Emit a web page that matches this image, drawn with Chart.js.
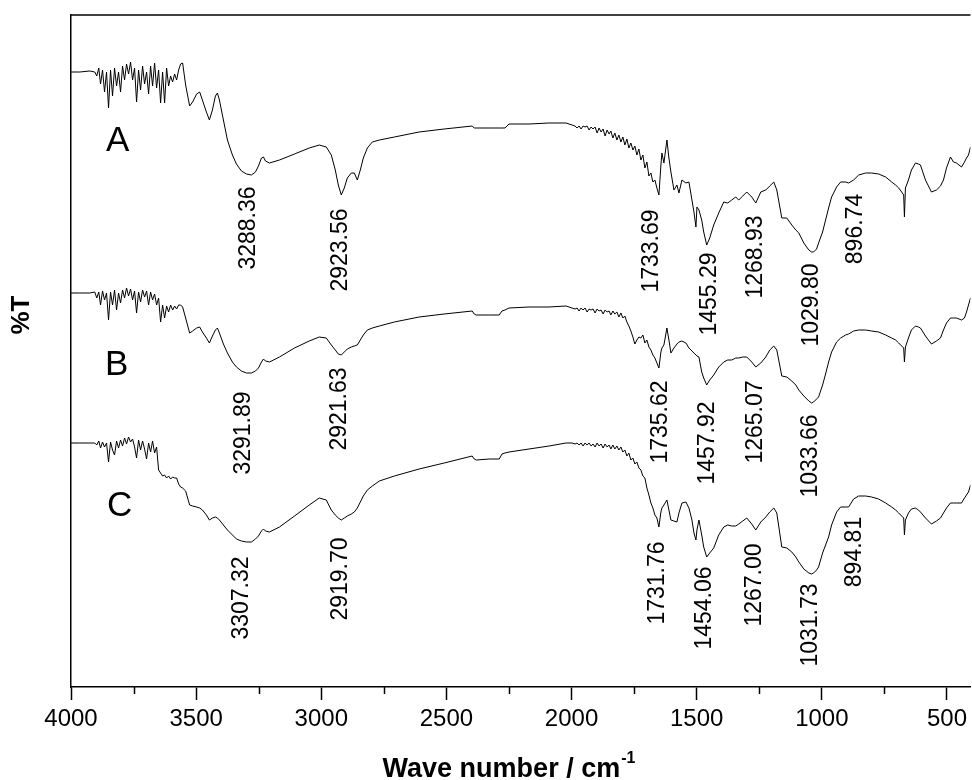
<!DOCTYPE html>
<html>
<head>
<meta charset="utf-8">
<title>FTIR spectra A, B, C</title>
<script src="https://cdn.jsdelivr.net/npm/chart.js@4.4.1/dist/chart.umd.min.js"></script>
<style>
  html, body { margin: 0; padding: 0; background: #fff; }
  canvas { display: block; }
</style>
</head>
<body>
<canvas id="ftirChart" width="972" height="780"></canvas>
<script>
// ---------- data ----------
// wave numbers (cm-1), shared by the three spectra
const waveNumbers = [
  4000, 3965, 3925, 3905,
  3897, 3889, 3882, 3874, 3866, 3858, 3850, 3842, 3834, 3826, 3818, 3810, 3802, 3794, 3786, 3778, 3770, 3762, 3754, 3746,
  3738, 3730, 3722, 3714, 3706, 3698, 3690, 3682, 3674, 3666, 3658, 3650, 3642, 3634, 3626, 3618, 3610, 3602, 3594, 3586,
  3578, 3570, 3562, 3554,
  3542, 3526, 3514, 3498, 3486, 3475, 3459, 3447, 3435, 3423, 3415, 3407, 3391, 3375, 3355, 3339, 3319, 3299, 3279, 3263,
  3251, 3239, 3231, 3223, 3207, 3167, 3107, 3048, 3008, 2980, 2960, 2944, 2932, 2920, 2908, 2896, 2880, 2868, 2856, 2844,
  2832, 2816, 2796, 2768, 2708, 2609, 2509, 2397, 2389, 2381, 2329, 2289, 2278, 2266, 2250, 2170, 2090, 2022, 1998,
  1986, 1978, 1970, 1962, 1954, 1946, 1938, 1930, 1922, 1914, 1906, 1898, 1890, 1882, 1874, 1866, 1858, 1850, 1843, 1835,
  1827, 1819, 1811, 1803, 1795, 1787, 1779, 1771, 1763, 1755, 1747, 1739, 1731, 1723, 1715, 1707, 1699, 1691, 1683, 1675,
  1667, 1659,
  1651, 1643, 1639, 1631, 1619, 1611, 1603, 1591, 1579, 1571, 1559, 1543, 1531, 1519, 1511, 1503, 1499, 1491, 1480, 1472,
  1460, 1448, 1432, 1412, 1392, 1376, 1360, 1344, 1332, 1316, 1300, 1280, 1264, 1244, 1224, 1208, 1192, 1180, 1160, 1140,
  1120, 1104, 1092, 1072, 1052, 1041, 1033, 1021, 1013, 997, 985, 973, 961, 941, 925, 905, 893, 873, 853, 825,
  801, 773, 745, 721, 705, 693, 681, 673, 670, 666, 654, 642, 626, 614, 606, 586, 562, 542, 526, 514,
  502, 486, 474, 462, 442, 430, 422, 414, 406
];

// %T of each spectrum (arbitrary units, the curves are stacked with an offset)
const spectrumA = [
  615, 615, 616, 615,
  611, 619, 603, 617, 595, 615, 579, 617, 591, 619, 601, 615, 595, 621, 607, 623, 613, 625, 607, 619,
  585, 617, 597, 621, 603, 615, 593, 621, 601, 624, 599, 617, 584, 615, 584, 619, 601, 611, 605, 613,
  607, 617, 623, 624,
  602, 581, 585, 593, 595, 587, 575, 567, 577, 591, 594, 587, 567, 547, 532, 523, 516, 513, 512, 515,
  521, 529, 530, 526, 524, 527, 533, 539, 542, 540, 532, 517, 502, 492, 499, 509, 514, 514, 507, 517,
  529, 539, 545, 547, 550, 555, 558, 561, 559, 559, 559, 559, 559, 559, 563, 563, 564, 564, 562,
  561, 559, 561, 558, 561, 560, 561, 557, 560, 558, 560, 554, 559, 555, 558, 551, 557, 553, 556, 549,
  554, 547, 552, 545, 550, 542, 548, 539, 544, 537, 541, 532, 538, 527, 532, 519, 525, 511, 514, 505,
  507, 499,
  492, 522, 534, 524, 547, 529, 515, 497, 502, 494, 507, 504, 505, 487, 475, 460, 480, 477, 467, 455,
  442, 449, 462, 474, 485, 484, 487, 490, 487, 491, 495, 490, 484, 495, 497, 501, 505, 497, 469, 469,
  462, 457, 454, 444, 437, 435, 435, 438, 444, 455, 467, 479, 490, 500, 505, 505, 504, 507, 512, 514,
  514, 513, 510, 505, 502, 499, 495, 492, 470, 499, 507, 517, 524, 523, 522, 507, 495, 497, 501, 507,
  519, 530, 525, 524, 520, 525, 529, 532, 540
];
const spectrumB = [
  394, 394, 394, 395,
  389, 395, 382, 396, 387, 394, 367, 395, 382, 397, 377, 394, 384, 397, 389, 399, 391, 398, 387, 396,
  374, 395, 385, 397, 390, 396, 382, 395, 387, 393, 382, 389, 365, 382, 369, 381, 375, 382, 377, 381,
  378, 382, 382, 380,
  369, 354, 356, 359, 360, 355, 349, 344, 351, 357, 359, 354, 343, 334, 325, 320, 316, 314, 314, 316,
  319, 325, 328, 326, 325, 330, 339, 346, 350, 349, 342, 337, 333, 332, 335, 338, 340, 341, 342, 347,
  352, 357, 359, 361, 365, 370, 373, 376, 373, 372, 372, 372, 376, 377, 379, 380, 380, 381, 379,
  378, 379, 376, 379, 377, 379, 375, 378, 377, 378, 374, 378, 376, 377, 373, 377, 375, 376, 372, 376,
  373, 375, 370, 374, 369, 371, 365, 361, 356, 350, 343, 347, 350, 349, 352, 344, 347, 340, 337, 332,
  329, 324,
  319, 335, 339, 342, 359, 347, 334, 339, 343, 345, 346, 344, 339, 336, 334, 332, 331, 330, 315, 309,
  302, 307, 312, 320, 325, 327, 327, 329, 329, 330, 330, 325, 320, 324, 330, 337, 341, 337, 311, 310,
  306, 302, 297, 291, 286, 284, 285, 288, 290, 302, 313, 325, 335, 345, 349, 352, 353, 356, 357, 357,
  356, 355, 352, 349, 347, 344, 341, 339, 325, 340, 349, 357, 361, 360, 359, 351, 343, 346, 349, 357,
  364, 369, 369, 369, 367, 369, 375, 382, 389
];
const spectrumC = [
  244, 244, 244, 244,
  242, 246, 239, 245, 240, 244, 225, 245, 237, 232, 246, 239, 247, 241, 249, 243, 250, 245, 248, 240,
  229, 247, 237, 246, 238, 228, 244, 235, 246, 234, 240, 217, 214, 211, 212, 209, 211, 208, 210, 209,
  209, 203, 200, 199,
  196, 182, 181, 180, 179, 177, 172, 167, 169, 170, 169, 167, 162, 157, 152, 148, 146, 145, 145, 148,
  151, 156, 158, 156, 155, 160, 171, 182, 189, 187, 177, 172, 169, 167, 169, 171, 173, 175, 179, 185,
  191, 197, 201, 206, 211, 218, 224, 231, 228, 227, 228, 228, 233, 234, 235, 238, 241, 244, 244,
  243, 244, 242, 244, 241, 244, 242, 244, 241, 243, 240, 244, 241, 243, 239, 243, 240, 242, 238, 242,
  238, 241, 237, 240, 235, 237, 231, 234, 227, 229, 223, 225, 219, 217, 211, 209, 199, 192, 184, 179,
  172, 169,
  160, 175, 179, 182, 187, 177, 167, 166, 165, 174, 184, 185, 179, 167, 154, 147, 157, 167, 152, 140,
  130, 134, 139, 152, 160, 162, 161, 161, 163, 166, 169, 163, 157, 165, 170, 175, 179, 174, 140, 139,
  135, 130, 125, 118, 114, 113, 114, 117, 120, 134, 142, 150, 162, 175, 180, 180, 180, 188, 191, 191,
  190, 188, 184, 180, 177, 174, 171, 169, 152, 167, 174, 178, 179, 177, 175, 169, 163, 166, 169, 174,
  179, 184, 184, 184, 184, 189, 192, 195, 202
];

const majorTicks = [4000, 3500, 3000, 2500, 2000, 1500, 1000, 500];
const minorTicks = [3750, 3250, 2750, 2250, 1750, 1250, 750];

// curve names and where they sit (wave number, %T)
const curveNames = ["A", "B", "C"];
const curveNameWave = [3814, 3818, 3806];
const curveNameT = [546, 322, 181];

// peak annotations (text, wave number, %T of the label centre)
const peakText = [
  "3288.36", "2923.56", "1733.69", "1455.29", "1268.93", "1029.80", "896.74",
  "3291.89", "2921.63", "1735.62", "1457.92", "1265.07", "1033.66",
  "3307.32", "2919.70", "1731.76", "1454.06", "1267.00", "1031.73", "894.81"
];
const peakWave = [
  3291, 2924, 1679, 1448, 1264, 1041, 865,
  3311, 2928, 1643, 1456, 1264, 1045,
  3319, 2924, 1655, 1468, 1268, 1045, 869
];
const peakT = [
  459, 437, 436, 393, 430, 382, 458,
  254, 278, 265, 244, 265, 231,
  89, 108, 104, 79, 102, 62, 135
];

const FONT = "'Liberation Sans', Arial, sans-serif";

function toPoints(values) {
  return waveNumbers.map((w, i) => ({ x: w, y: values[i] }));
}

function lineSet(label, values) {
  return {
    label,
    data: toPoints(values),
    borderColor: "#000",
    borderWidth: 1,
    pointRadius: 0,
    tension: 0,
    fill: false
  };
}

// ---------- extra drawing: frame, minor ticks, titles, annotations ----------
const ftirDecor = {
  id: "ftirDecor",
  afterDraw(chart) {
    const { ctx, chartArea } = chart;
    const xs = chart.scales.x;
    const ys = chart.scales.y;
    ctx.save();
    ctx.strokeStyle = "#000";
    ctx.fillStyle = "#000";

    // top frame line
    ctx.lineWidth = 1.5;
    ctx.beginPath();
    ctx.moveTo(chartArea.left, chartArea.top);
    ctx.lineTo(chartArea.right, chartArea.top);
    ctx.stroke();

    // minor ticks
    for (const v of minorTicks) {
      const px = Math.round(xs.getPixelForValue(v)) + 0.5;
      ctx.beginPath();
      ctx.moveTo(px, chartArea.bottom);
      ctx.lineTo(px, chartArea.bottom + 7);
      ctx.stroke();
    }

    // curve names
    ctx.font = "35px " + FONT;
    ctx.textAlign = "center";
    ctx.textBaseline = "middle";
    curveNames.forEach((n, i) => {
      ctx.fillText(n, xs.getPixelForValue(curveNameWave[i]), ys.getPixelForValue(curveNameT[i]));
    });

    // peak labels, read bottom to top
    ctx.font = "23px " + FONT;
    peakText.forEach((t, i) => {
      ctx.save();
      ctx.translate(xs.getPixelForValue(peakWave[i]), ys.getPixelForValue(peakT[i]));
      ctx.rotate(-Math.PI / 2);
      ctx.fillText(t, 0, 0);
      ctx.restore();
    });

    // y title
    ctx.font = "bold 26px " + FONT;
    ctx.save();
    ctx.translate(22, 315);
    ctx.rotate(-Math.PI / 2);
    ctx.fillText("%T", 0, 0);
    ctx.restore();

    // x title with superscript
    const main = "Wave number / cm";
    const sup = "-1";
    ctx.textAlign = "left";
    ctx.textBaseline = "alphabetic";
    ctx.font = "bold 27px " + FONT;
    const w1 = ctx.measureText(main).width;
    ctx.font = "bold 16px " + FONT;
    const w2 = ctx.measureText(sup).width;
    const cx = xs.getPixelForValue(2250);
    const x0 = cx - (w1 + w2 + 1) / 2;
    const base = chart.height - 3;
    ctx.font = "bold 27px " + FONT;
    ctx.fillText(main, x0, base);
    ctx.font = "bold 16px " + FONT;
    ctx.fillText(sup, x0 + w1 + 1, base - 14);

    ctx.restore();
  }
};

new Chart(document.getElementById("ftirChart"), {
  type: "line",
  data: {
    datasets: [
      lineSet("A", spectrumA),
      lineSet("B", spectrumB),
      lineSet("C", spectrumC)
    ]
  },
  options: {
    responsive: false,
    animation: false,
    layout: { padding: { top: 15, right: 0, left: 0, bottom: 0 } },
    plugins: {
      legend: { display: false },
      tooltip: { enabled: false }
    },
    scales: {
      x: {
        type: "linear",
        reverse: true,
        min: 406,
        max: 4000,
        afterBuildTicks: (scale) => { scale.ticks = majorTicks.map(v => ({ value: v })); },
        afterFit: (scale) => { scale.height = 93; },
        ticks: {
          color: "#000",
          padding: 5,
          maxRotation: 0,
          autoSkip: false,
          font: { family: FONT, size: 24 },
          callback: (v) => String(v)
        },
        grid: {
          display: true,
          drawOnChartArea: false,
          drawTicks: true,
          tickLength: 13,
          tickColor: "#000",
          tickWidth: 1.5
        },
        border: { display: true, color: "#000", width: 1.5 }
      },
      y: {
        min: 0,
        max: 672,
        afterFit: (scale) => { scale.width = 71; },
        ticks: { display: false },
        grid: { display: false },
        border: { display: true, color: "#000", width: 1.5 }
      }
    }
  },
  plugins: [ftirDecor]
});
</script>
</body>
</html>
